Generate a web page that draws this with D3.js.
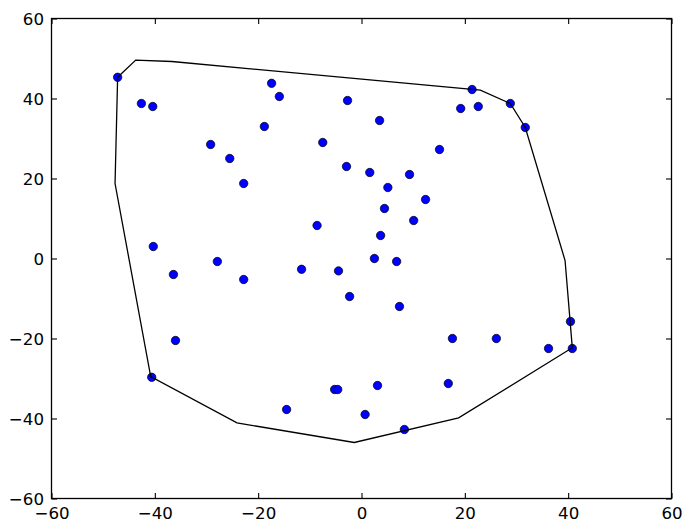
<!DOCTYPE html>
<html>
<head>
<meta charset="utf-8">
<script src="https://cdn.jsdelivr.net/npm/d3@7"></script>
<style>
  html, body { margin: 0; padding: 0; background: #fff; }
  svg { display: block; }
  text { font-family: "DejaVu Sans", sans-serif; }
</style>
</head>
<body>
<svg id="chart" width="691" height="532"></svg>
<script>
// Scatter points
const pointX = [-47.2, -42.6, -40.4, -17.4, -15.9, -2.7, -18.8, -29.2, -7.5, -25.5,
  -2.9, 1.6, -22.8, -8.6, -40.3, -27.9, -11.6, -4.45, 3.5, 21.4,
  19.2, 22.6, 28.8, 31.7, 15.1, 9.3, 5.1, 12.4, 4.45, 10.1,
  3.7, 2.5, 6.8, -2.3, 7.35, 40.45, 17.6, 26.1, 36.2, 40.8,
  3.1, 16.8, 0.7, 8.3, -36.4, -22.8, -36.0, -40.6, -14.5, -5.2, -4.6];
const pointY = [45.3, 38.75, 38.0, 43.8, 40.5, 39.5, 33.0, 28.5, 29.0, 25.0,
  23.0, 21.5, 18.75, 8.25, 3.0, -0.75, -2.7, -3.1, 34.5, 42.25,
  37.5, 38.0, 38.75, 32.75, 27.25, 21.0, 17.75, 14.75, 12.5, 9.5,
  5.75, 0.0, -0.75, -9.5, -12.0, -15.75, -20.0, -20.0, -22.5, -22.5,
  -31.75, -31.25, -39.0, -42.75, -4.0, -5.25, -20.5, -29.7, -37.75, -32.75, -32.75];

// Hull polygon vertices
const hullX = [-47.2, -43.7, -36.7, 23.0, 28.8, 31.7, 39.4, 40.8, 18.8, -1.4, -24.1, -40.8, -47.7];
const hullY = [45.3, 49.6, 49.25, 42.1, 38.75, 32.75, -0.5, -22.3, -39.85, -46.0, -41.1, -29.5, 18.75];

// Axis ticks
const xTicks = [-60, -40, -20, 0, 20, 40, 60];
const yTicks = [-60, -40, -20, 0, 20, 40, 60];

const mLeft = 51.5, mTop = 18.5, W = 620, H = 480;
const svg = d3.select("#chart");
const x = d3.scaleLinear().domain([-60, 60]).range([mLeft, mLeft + W]);
const y = d3.scaleLinear().domain([-60, 60]).range([mTop + H, mTop]);
const fmt = d3.format("d");

// points
svg.append("g").selectAll("circle")
  .data(pointX.map((v, i) => [v, pointY[i]]))
  .join("circle")
  .attr("cx", d => x(d[0]))
  .attr("cy", d => y(d[1]))
  .attr("r", 4.2)
  .attr("fill", "#0000ff")
  .attr("stroke", "#000")
  .attr("stroke-width", 0.7);

// hull
const hullPts = hullX.map((v, i) => [v, hullY[i]]);
svg.append("path")
  .attr("d", d3.line().x(d => x(d[0])).y(d => y(d[1])).curve(d3.curveLinearClosed)(hullPts))
  .attr("fill", "none")
  .attr("stroke", "#000")
  .attr("stroke-width", 1.3);

function styleAxis(g) {
  g.select(".domain").remove();
  g.selectAll(".tick line").attr("stroke", "#000").attr("stroke-width", 1.1);
  g.selectAll(".tick text").attr("fill", "#000").style("font-size", "16.67px")
    .style("font-family", "'DejaVu Sans', sans-serif");
}

svg.append("g").attr("transform", `translate(0,${mTop + H})`)
  .call(d3.axisBottom(x).tickValues(xTicks).tickFormat(fmt).tickSizeInner(-5.5).tickSizeOuter(0).tickPadding(9))
  .call(styleAxis);
svg.append("g").attr("transform", `translate(0,${mTop})`)
  .call(d3.axisTop(x).tickValues(xTicks).tickFormat("").tickSizeInner(-5.5).tickSizeOuter(0))
  .call(styleAxis);
svg.append("g").attr("transform", `translate(${mLeft},0)`)
  .call(d3.axisLeft(y).tickValues(yTicks).tickFormat(fmt).tickSizeInner(-5.5).tickSizeOuter(0).tickPadding(7.5))
  .call(styleAxis)
  .call(g => g.selectAll(".tick text").attr("dy", "0.36em"));
svg.append("g").attr("transform", `translate(${mLeft + W},0)`)
  .call(d3.axisRight(y).tickValues(yTicks).tickFormat("").tickSizeInner(-5.5).tickSizeOuter(0))
  .call(styleAxis);

// frame
svg.append("rect")
  .attr("x", mLeft).attr("y", mTop).attr("width", W).attr("height", H)
  .attr("fill", "none").attr("stroke", "#000").attr("stroke-width", 1.3);
</script>
</body>
</html>
